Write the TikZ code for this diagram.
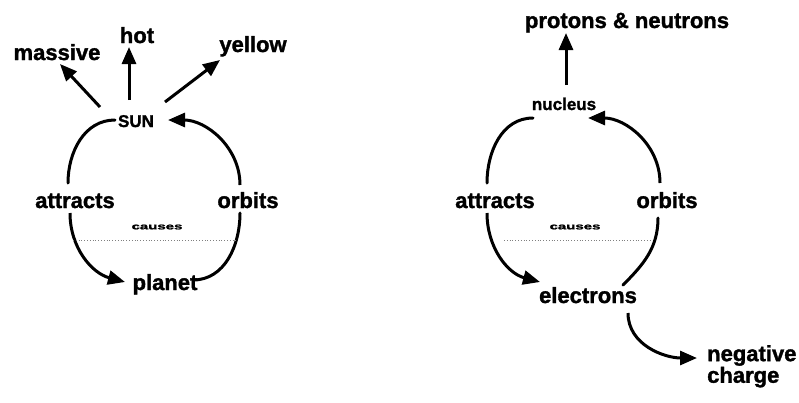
\documentclass[tikz,border=0pt]{standalone}
\usepackage{fontspec}
\setmainfont{Liberation Sans}[BoldFeatures={FakeBold=1.5}]
\usetikzlibrary{arrows.meta}
\begin{document}
\begin{tikzpicture}[x=1pt,y=1pt,
  lbl/.style={inner sep=0pt, anchor=base, font=\fontsize{22}{24}\selectfont\bfseries},
  small/.style={inner sep=0pt, anchor=base, font=\fontsize{17}{18}\selectfont\bfseries},
  tiny/.style={inner sep=0pt, anchor=center},
  link/.style={line width=3pt, line cap=round},
  arr/.style={line width=3pt, -{Triangle[length=17pt,width=14pt]}},
  causeline/.style={line width=0.8pt, dotted, gray}
]
\useasboundingbox (0,0) rectangle (799,-402);
\newcommand{\causetext}{\scalebox{1}[0.6]{\fontsize{15}{15}\selectfont\bfseries causes}}
% ---------- left: sun ----------
\node[lbl] (massive) at (57,-60) {massive};
\node[lbl] (hot) at (137,-43) {hot};
\node[lbl] (yellow) at (253,-52) {yellow};
\node[small] (sun) at (136,-127) {SUN};
\node[lbl] (attracts1) at (75,-208) {attracts};
\node[lbl] (orbits1) at (248,-208) {orbits};
\node[tiny] (causes1) at (157,-227) {\causetext};
\node[lbl] (planet) at (165,-290) {planet};

\draw[arr] ([shift={(-36,20)}]sun.base) -- ([shift={(3,-4)}]massive.base);
\draw[arr] ([shift={(-7,27)}]sun.base) -- ([shift={(-8,-4)}]hot.base);
\draw[arr] ([shift={(29,25)}]sun.base) -- ([shift={(-33,-8)}]yellow.base);
\draw[link] ([shift={(-21,7)}]sun.base) to[out=180,in=90] ([shift={(-7,25)}]attracts1.base);
\draw[arr] ([shift={(-8,23)}]orbits1.base) to[out=90,in=0] ([shift={(32,7)}]sun.base);
\draw[arr] ([shift={(-5,-5)}]attracts1.base) to[out=270,in=165] ([shift={(-40,8)}]planet.base);
\draw[link] ([shift={(-8,-5)}]orbits1.base) to[out=270,in=0] ([shift={(28,10)}]planet.base);
\draw[causeline] ([shift={(-2,-32)}]attracts1.base) -- ([shift={(-11,-32)}]orbits1.base);

% ---------- right: atom ----------
\node[lbl] (pn) at (627,-28) {protons \& neutrons};
\node[small] (nucleus) at (564,-110) {nucleus};
\node[lbl] (attracts2) at (495,-208) {attracts};
\node[lbl] (orbits2) at (667,-208) {orbits};
\node[tiny] (causes2) at (575,-227) {\causetext};
\node[lbl] (electrons) at (588,-303) {electrons};
\node[inner sep=0pt, anchor=north west, align=left,
      font=\fontsize{22}{20}\selectfont\bfseries] (negcharge) at (707,-345) {negative\\charge};

\draw[arr] ([shift={(2,25)}]nucleus.base) -- ([shift={(-61,-5)}]pn.base);
\draw[link] ([shift={(-31,-8)}]nucleus.base) to[out=180,in=90] ([shift={(-8,25)}]attracts2.base);
\draw[arr] ([shift={(-7,25)}]orbits2.base) to[out=90,in=0] ([shift={(24,-8)}]nucleus.base);
\draw[arr] ([shift={(-8,-5)}]attracts2.base) to[out=270,in=165] ([shift={(-48,21)}]electrons.base);
\draw[link] ([shift={(-9,-10)}]orbits2.base) to[out=270,in=45] ([shift={(35,18)}]electrons.base);
\draw[arr] ([shift={(40,-10)}]electrons.base) to[out=270,in=180] ([shift={(-10,-13)}]negcharge.north west);
\draw[causeline] ([shift={(9,-32)}]attracts2.base) -- ([shift={(-15,-32)}]orbits2.base);
\end{tikzpicture}
\end{document}
